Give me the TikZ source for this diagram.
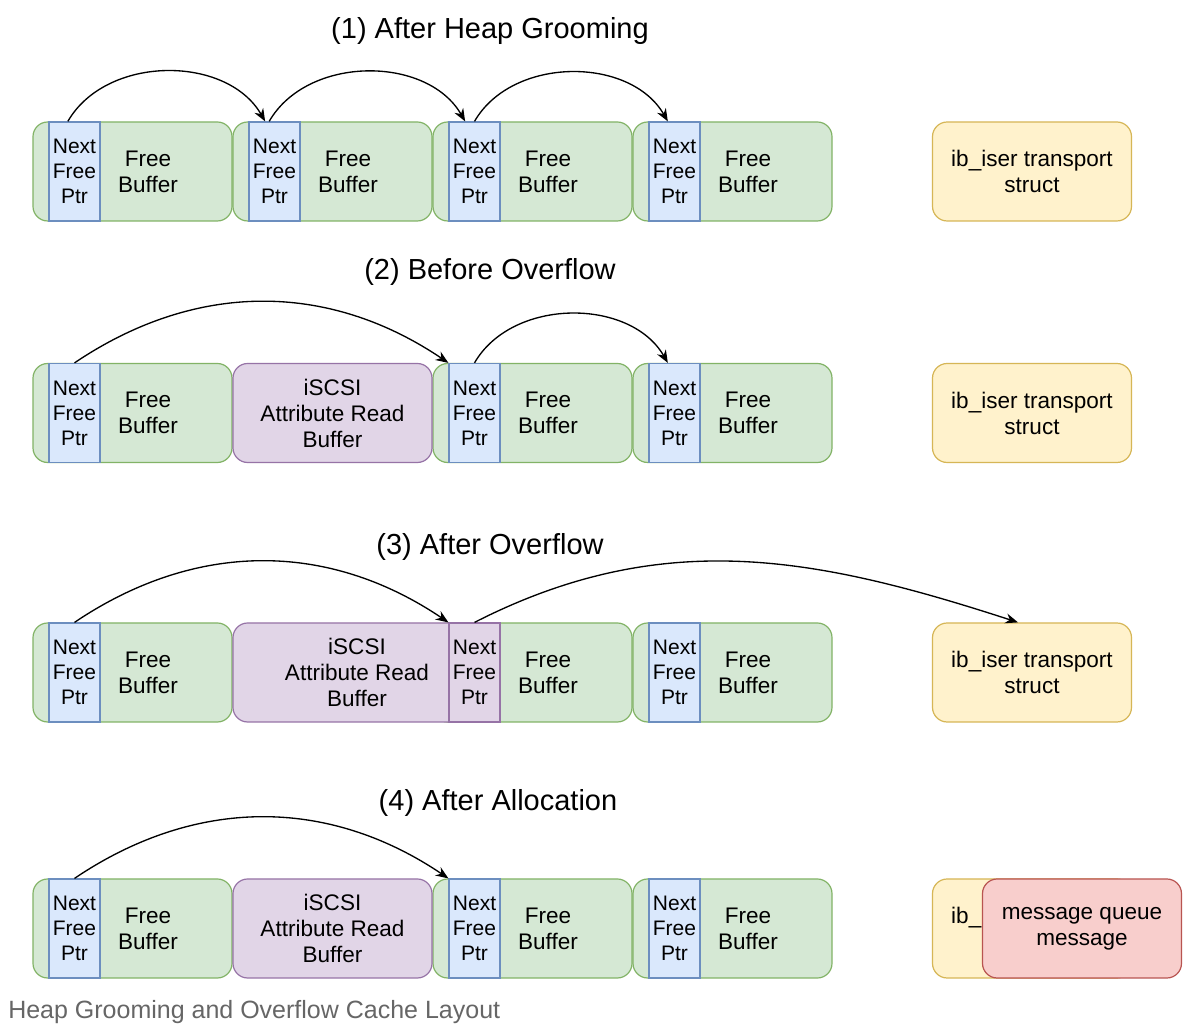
\documentclass[tikz,border=0pt]{standalone}
\usepackage{fontspec}
\setmainfont{Liberation Sans}
\usetikzlibrary{arrows.meta}
\definecolor{gfill}{HTML}{D5E8D4}
\definecolor{gline}{HTML}{82B366}
\definecolor{bfill}{HTML}{DAE8FC}
\definecolor{bline}{HTML}{6C8EBF}
\definecolor{pfill}{HTML}{E1D5E7}
\definecolor{pline}{HTML}{9673A6}
\definecolor{yfill}{HTML}{FFF2CC}
\definecolor{yline}{HTML}{D6B656}
\definecolor{rfill}{HTML}{F8CECC}
\definecolor{rline}{HTML}{B85450}
\definecolor{capgray}{HTML}{666666}

\begin{document}
\begin{tikzpicture}[x=0.75pt,y=0.75pt,
		cell/.style={draw,rounded corners=11pt,minimum width=149.25pt,minimum height=74.25pt,line width=0.9pt,inner sep=0pt},
		freebox/.style={cell,fill=gfill,draw=gline},
		ptrbox/.style={draw=bline,fill=bfill,minimum width=38.25pt,minimum height=74.25pt,line width=0.9pt,inner sep=0pt,align=center,font=\fontsize{15.75}{18.75}\selectfont},
		buftext/.style={align=center,font=\fontsize{16.9}{19.5}\selectfont},
		title/.style={font=\fontsize{21.75}{26}\selectfont},
		link/.style={-{Stealth[length=9.5pt,width=7.5pt]},line width=1pt}]
	\useasboundingbox (0,0) rectangle (1200,1031);
	\fill[white] (0,0) rectangle (1200,1031);

	\node[title] (t1) at (490,1000) {(1) After Heap Grooming};
	\foreach \i/\x in {1/132.5,2/332.5,3/532.5,4/732.5}{
		\node[freebox] (b1\i) at (\x,859.5) {};
		\node[ptrbox,anchor=west] (p1\i) at ([xshift=12pt]b1\i.west) {Next\\Free\\Ptr};
		\node[buftext] (f1\i) at ([xshift=11.6pt]b1\i.center) {Free\\Buffer};
	}
	\node[cell,fill=yfill,draw=yline,buftext] (s1) at (1032,859.5) {ib\_iser transport\\struct};
	\draw[link] ([xshift=-5pt]p11.north) to[out=60,in=120] ([xshift=-7pt]p12.north);
	\draw[link] ([xshift=-4pt]p12.north) to[out=60,in=120] ([xshift=-7pt]p13.north);
	\draw[link] (p13.north) to[out=60,in=120] ([xshift=-5pt]p14.north);

	\node[title] (t2) at (490,759) {(2) Before Overflow};
	\foreach \i/\x in {1/132.5,3/532.5,4/732.5}{
		\node[freebox] (b2\i) at (\x,618) {};
		\node[ptrbox,anchor=west] (p2\i) at ([xshift=12pt]b2\i.west) {Next\\Free\\Ptr};
		\node[buftext] (f2\i) at ([xshift=11.6pt]b2\i.center) {Free\\Buffer};
	}
	\node[cell,fill=pfill,draw=pline,buftext] (a2) at (332.5,618) {iSCSI\\Attribute Read\\Buffer};
	\node[cell,fill=yfill,draw=yline,buftext] (s2) at (1032,618) {ib\_iser transport\\struct};
	\draw[link] (p21.north) to[out=34,in=146] (p23.north west);
	\draw[link] (p23.north) to[out=60,in=120] ([xshift=-5pt]p24.north);

	\node[title] (t3) at (490,484) {(3) After Overflow};
	\foreach \i/\x in {1/132.5,3/532.5,4/732.5}{
		\node[freebox] (b3\i) at (\x,358.5) {};
		\node[ptrbox,anchor=west] (p3\i) at ([xshift=12pt]b3\i.west) {Next\\Free\\Ptr};
		\node[buftext] (f3\i) at ([xshift=11.6pt]b3\i.center) {Free\\Buffer};
	}
	\node[cell,fill=pfill,draw=pline,minimum width=173.25pt] (a3) at (348.5,358.5) {};
	\node[buftext] (r3) at (357,358.5) {iSCSI\\Attribute Read\\Buffer};
	\node[ptrbox,fill=pfill,draw=pline] (p33) at (474.5,358.5) {Next\\Free\\Ptr};
	\node[cell,fill=yfill,draw=yline,buftext] (s3) at (1032,358.5) {ib\_iser transport\\struct};
	\draw[link] (p31.north) to[out=34,in=146] (p33.north west);
	\draw[link] (p33.north) to[out=27,in=162] ([xshift=-10.5pt]s3.north);

	\node[title] (t4) at (498,228) {(4) After Allocation};
	\foreach \i/\x in {1/132.5,3/532.5,4/732.5}{
		\node[freebox] (b4\i) at (\x,102.5) {};
		\node[ptrbox,anchor=west] (p4\i) at ([xshift=12pt]b4\i.west) {Next\\Free\\Ptr};
		\node[buftext] (f4\i) at ([xshift=11.6pt]b4\i.center) {Free\\Buffer};
	}
	\node[cell,fill=pfill,draw=pline,buftext] (a4) at (332.5,102.5) {iSCSI\\Attribute Read\\Buffer};
	\node[cell,fill=yfill,draw=yline,buftext] (s4) at (1032,102.5) {ib\_iser transport\\struct};
	\node[cell,fill=rfill,draw=rline,buftext] (m4) at (1082,102.5) {message queue\\message};
	\draw[link] (p41.north) to[out=34,in=146] (p43.north west);

	\node[anchor=west,inner sep=0pt,text=capgray,font=\fontsize{18.75}{22}\selectfont] (cap) at (8,19) {Heap Grooming and Overflow Cache Layout};
\end{tikzpicture}
\end{document}
